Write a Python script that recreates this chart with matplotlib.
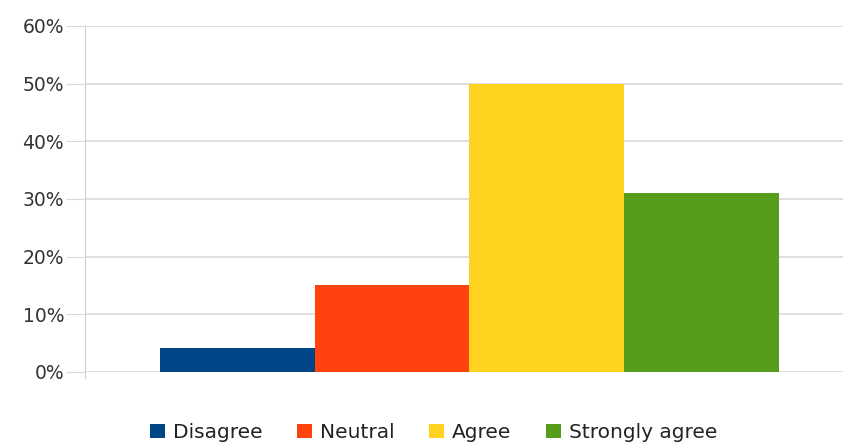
import numpy as np
import matplotlib.pyplot as plt
from matplotlib.ticker import PercentFormatter

# datos
categorias = ['Disagree', 'Neutral', 'Agree', 'Strongly agree']
valores = [4.2, 15, 50, 31]
colores = ['#004586', '#ff420e', '#ffd320', '#579d1c']
yticks = [0, 10, 20, 30, 40, 50, 60]

fig = plt.figure(figsize=(8.45, 4.46), dpi=100)
ax = fig.add_axes([0.1006, 0.166, 0.897, 0.776])

w = 0.204
centro = 0.507
for i, (cat, v, c) in enumerate(zip(categorias, valores, colores)):
    ax.bar(centro + (i - 1.5) * w, v, width=w, color=c, label=cat, zorder=3)

ax.set_xlim(0, 1)
ax.set_ylim(0, 60)
ax.set_yticks(yticks)
ax.yaxis.set_major_formatter(PercentFormatter(decimals=0))
ax.set_xticks([])
ax.grid(axis='y', color='#d9d9d9', linewidth=1.2, zorder=0)
for s in ['top', 'right', 'bottom']:
    ax.spines[s].set_visible(False)
ax.spines['left'].set_color('#d0d0d0')
ax.spines['left'].set_bounds(-1, 60)
ax.tick_params(axis='y', length=14, color='#d9d9d9', labelsize=13.5,
               labelcolor='#333333', pad=1)
for lbl in ax.get_yticklabels():
    lbl.set_fontfamily('DejaVu Sans')

leg = fig.legend(loc='center', bbox_to_anchor=(0.513, 0.03), ncol=4,
                 frameon=False, handlelength=0.75, handleheight=0.75,
                 handletextpad=0.4, columnspacing=1.7,
                 prop={'family': 'DejaVu Sans', 'size': 14.5})
for t in leg.get_texts():
    t.set_color('#222222')

fig.savefig('out.png', dpi=100)
